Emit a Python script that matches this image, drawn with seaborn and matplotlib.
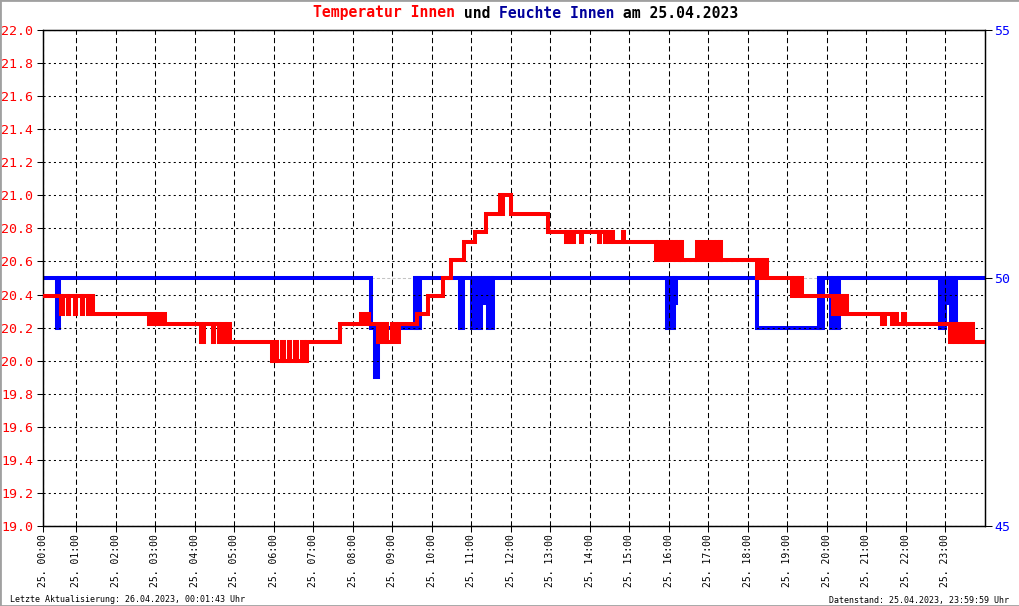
import matplotlib
matplotlib.use("Agg")
import matplotlib.pyplot as plt
import seaborn as sns
import pandas as pd
from matplotlib.patches import Rectangle

# Temperatur Innen: change points (hour of day, degC), value held until next point
temp_hours = [
    0.16, 0.63, 0.66, 0.80, 0.83, 0.97, 1.00, 1.14, 1.17, 1.30, 1.33, 1.43,
    2.85, 2.89, 3.00, 3.04, 3.15, 3.19, 3.25,
    4.17, 4.24, 4.46, 4.50, 4.62, 4.66, 4.78, 4.82, 4.89,
    5.95, 6.05, 6.09, 6.22, 6.26, 6.38, 6.42, 6.55, 6.59, 6.72, 6.76, 6.84,
    7.68, 8.21, 8.26, 8.36, 8.41,
    8.64, 8.72, 8.75, 8.84, 8.87, 9.00, 9.09, 9.17,
    9.62, 9.90, 10.28, 10.49, 10.82, 11.09, 11.37,
    11.73, 11.77, 11.80, 12.00,
    12.94, 13.40, 13.44, 13.47, 13.53, 13.56, 13.60, 13.78, 13.81,
    14.23, 14.26, 14.38, 14.42, 14.46, 14.53, 14.59, 14.84, 14.87,
    15.68, 15.73, 15.80, 15.85, 15.93, 15.97, 16.05, 16.09, 16.17, 16.21, 16.29, 16.31, 16.33,
    16.71, 16.75, 16.85, 16.90, 16.97, 17.01, 17.10, 17.14, 17.22, 17.26, 17.29, 17.32,
    18.23, 18.27, 18.36, 18.40, 18.48,
    19.12, 19.16, 19.25, 19.29, 19.36,
    20.16, 20.20, 20.30, 20.34, 20.44, 20.47, 20.51,
    21.40, 21.47, 21.65, 21.70, 21.78, 21.93, 21.98,
    23.12, 23.16, 23.25, 23.29, 23.38, 23.42, 23.50, 23.55, 23.65, 23.68, 23.70,
    24.00,
]
temp_values = [
    20.39, 20.28, 20.39, 20.28, 20.39, 20.28, 20.39, 20.28, 20.39, 20.28, 20.39, 20.28,
    20.22, 20.28, 20.22, 20.28, 20.22, 20.28, 20.22,
    20.11, 20.22, 20.11, 20.22, 20.11, 20.22, 20.11, 20.22, 20.11,
    20.00, 20.11, 20.00, 20.11, 20.00, 20.11, 20.00, 20.11, 20.00, 20.11, 20.00, 20.11,
    20.22, 20.28, 20.22, 20.28, 20.22,
    20.11, 20.22, 20.11, 20.22, 20.11, 20.22, 20.11, 20.22,
    20.28, 20.39, 20.50, 20.61, 20.72, 20.78, 20.89,
    21.00, 20.89, 21.00, 20.89,
    20.78, 20.72, 20.78, 20.72, 20.78, 20.72, 20.78, 20.72, 20.78,
    20.72, 20.78, 20.72, 20.78, 20.72, 20.78, 20.72, 20.78, 20.72,
    20.61, 20.72, 20.61, 20.72, 20.61, 20.72, 20.61, 20.72, 20.61, 20.72, 20.61, 20.72, 20.61,
    20.72, 20.61, 20.72, 20.61, 20.72, 20.61, 20.72, 20.61, 20.72, 20.61, 20.72, 20.61,
    20.50, 20.61, 20.50, 20.61, 20.50,
    20.39, 20.50, 20.39, 20.50, 20.39,
    20.28, 20.39, 20.28, 20.39, 20.28, 20.39, 20.28,
    20.22, 20.28, 20.22, 20.28, 20.22, 20.28, 20.22,
    20.11, 20.22, 20.11, 20.22, 20.11, 20.22, 20.11, 20.22, 20.11, 20.22, 20.11,
    20.11,
]

# Feuchte Innen: change points (hour of day, %)
hum_hours = [
    0.16, 0.52, 0.57,
    8.46, 8.56, 8.64,
    9.57, 9.60, 9.64, 9.67, 9.70,
    10.72, 10.78,
    11.02, 11.06, 11.12, 11.16, 11.22, 11.26, 11.32, 11.36, 11.42, 11.46, 11.52, 11.56,
    13.65,
    15.95, 16.01, 16.07, 16.12, 16.15, 16.18,
    18.23,
    19.80, 19.83, 19.86, 19.88, 19.90,
    20.10, 20.16, 20.26, 20.31,
    22.87, 22.91, 22.96, 23.00, 23.04, 23.08, 23.13, 23.17, 23.22, 23.26, 23.30,
    24.00,
]
hum_values = [
    50, 49, 50,
    49, 48, 49,
    50, 49, 50, 49, 50,
    49, 50,
    49, 50, 49, 50, 49, 50, 49.5, 50, 49, 50, 49, 50,
    50,
    49, 50, 49, 50, 49.5, 50,
    49,
    50, 49, 50, 49, 50,
    49, 50, 49, 50,
    49, 50, 49, 50, 49.5, 50, 49, 50, 49, 50, 50,
    50,
]

temp_ticks = [19.0, 19.2, 19.4, 19.6, 19.8, 20.0, 20.2, 20.4, 20.6, 20.8,
              21.0, 21.2, 21.4, 21.6, 21.8, 22.0]
temp_tick_labels = ["19.0", "19.2", "19.4", "19.6", "19.8", "20.0", "20.2", "20.4",
                    "20.6", "20.8", "21.0", "21.2", "21.4", "21.6", "21.8", "22.0"]
hum_ticks = [45, 50, 55]
hour_ticks = [0.165, 1, 2, 3, 4, 5, 6, 7, 8, 9, 10, 11, 12, 13, 14, 15, 16, 17, 18,
              19, 20, 21, 22, 23]
hour_labels = ["25. 00:00", "25. 01:00", "25. 02:00", "25. 03:00", "25. 04:00",
               "25. 05:00", "25. 06:00", "25. 07:00", "25. 08:00", "25. 09:00",
               "25. 10:00", "25. 11:00", "25. 12:00", "25. 13:00", "25. 14:00",
               "25. 15:00", "25. 16:00", "25. 17:00", "25. 18:00", "25. 19:00",
               "25. 20:00", "25. 21:00", "25. 22:00", "25. 23:00"]

temp_df = pd.DataFrame({"Stunde": temp_hours, "Temperatur": temp_values})
hum_df = pd.DataFrame({"Stunde": hum_hours, "Feuchte": hum_values})

sns.set_style("white")
plt.rcParams["font.family"] = ["DejaVu Sans Mono", "DejaVu Sans"]

fig = plt.figure(figsize=(10.2, 6.06), dpi=100)
ax = fig.add_axes([43 / 1020, 80 / 606, 942 / 1020, 496 / 606])
ax2 = ax.twinx()

# humidity underneath, grid and temperature on top
ax2.axhline(50, color="#c4c4c4", ls=(0, (3, 2)), lw=0.75, zorder=1)
sns.lineplot(data=hum_df, x="Stunde", y="Feuchte", ax=ax2, color="#0000ff",
             lw=2.9, drawstyle="steps-post", estimator=None, sort=False,
             solid_joinstyle="miter", solid_capstyle="butt")
ax.set_zorder(ax2.get_zorder() + 1)
ax.patch.set_visible(False)

sns.lineplot(data=temp_df, x="Stunde", y="Temperatur", ax=ax, color="#ff0000",
             lw=2.9, drawstyle="steps-post", estimator=None, sort=False,
             solid_joinstyle="miter", solid_capstyle="butt", zorder=3)

ax.set_xlim(0.165, 24.0)
ax.set_ylim(19.0, 22.0)
ax2.set_ylim(45, 55)

ax.set_yticks(temp_ticks)
ax.set_yticklabels(temp_tick_labels)
ax.set_xticks(hour_ticks)
ax.set_xticklabels(hour_labels, rotation=90, va="top", ha="center")
ax2.set_yticks(hum_ticks)
ax.set_xlabel("")
ax.set_ylabel("")
ax2.set_ylabel("")

ax.yaxis.grid(True, color="black", ls=(0, (2, 3)), lw=0.75)
ax.xaxis.grid(True, color="black", ls=(0, (5, 3)), lw=0.75)
ax2.grid(False)

ax.tick_params(axis="y", direction="out", length=4, width=0.75, color="black",
               labelcolor="#ff0000", labelsize=9.5, pad=3, left=True)
ax.tick_params(axis="x", direction="out", length=4, width=0.75, color="black",
               labelcolor="black", labelsize=7, pad=1.5, bottom=True)
ax2.tick_params(axis="y", direction="out", length=5, width=0.75, color="black",
                labelcolor="#0000ff", labelsize=9.5, pad=1.5, right=True)

for a in (ax, ax2):
    for sp in a.spines.values():
        sp.set_color("black")
        sp.set_linewidth(0.9)
        sp.set_visible(True)

# multicoloured title, monospace so each piece is offset by its character count
title_parts = [("Temperatur Innen", "#ff0000"), (" und ", "black"),
               ("Feuchte Innen", "#00009c"), (" am 25.04.2023", "black")]
title_size = 10.6
char_w = title_size * 100 / 72 * 0.602 / 1020
x = 313 / 1020
for txt, col in title_parts:
    fig.text(x, 1 - 13 / 606, txt, color=col, fontsize=title_size, fontweight="bold",
             ha="left", va="center")
    x += len(txt) * char_w

fig.text(10 / 1020, 1 - 600 / 606, "Letzte Aktualisierung: 26.04.2023, 00:01:43 Uhr",
         fontsize=6, ha="left", va="center", color="black")
fig.text(1009 / 1020, 1 - 600 / 606, "Datenstand: 25.04.2023, 23:59:59 Uhr",
         fontsize=6, ha="right", va="center", color="black")

fig.patches.append(Rectangle((0, 0), 1, 1, transform=fig.transFigure, fill=False,
                             edgecolor="#a0a0a0", lw=2))

fig.savefig("out.png", dpi=100)
